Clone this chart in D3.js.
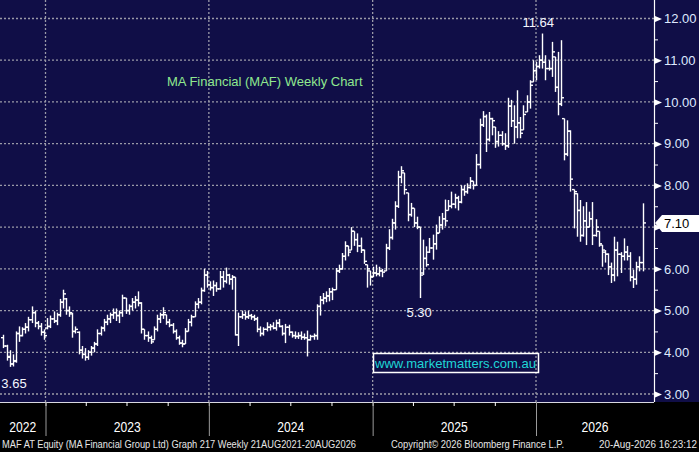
<!doctype html>
<html lang="en">
  <head>
    <meta charset="utf-8">
    <title>MA Financial (MAF) Weekly Chart</title>
    <script src="https://d3js.org/d3.v7.min.js"></script>
    <style>
      body { margin: 0; background: #000; }
      svg { display: block; }
      text { font-family: "Liberation Sans", Arial, sans-serif; }
    </style>
  </head>

  <body>
    <svg width="699" height="452"></svg>

    <script>
      // weekly bars, first week ending 29 Sep 2022
      var firstWeek = new Date(Date.UTC(2022, 8, 29));

      var opens = [4.35,4.15,3.90,3.72,3.80,4.45,4.40,4.55,4.60,4.78,4.95,4.70,4.62,4.48,4.58,4.62,4.80,4.75,4.90,5.20,
        5.28,5.00,4.92,4.50,4.48,4.05,3.95,3.88,4.00,4.10,4.20,4.45,4.58,4.72,4.80,4.90,4.95,4.88,4.95,5.30,
        5.00,5.10,5.20,5.25,5.18,4.55,4.40,4.35,4.30,4.55,4.80,4.90,4.90,4.72,4.65,4.50,4.35,4.22,4.20,4.50,
        4.72,4.85,5.15,5.20,5.48,5.85,5.62,5.55,5.60,5.52,5.80,5.70,5.85,5.75,5.80,4.42,4.85,4.90,4.85,4.88,
        4.85,4.80,4.55,4.45,4.55,4.60,4.62,4.58,4.70,4.62,4.45,4.60,4.48,4.40,4.38,4.40,4.36,4.35,4.30,4.38,
        4.40,5.10,5.25,5.30,5.35,5.45,5.50,5.95,6.00,6.30,6.55,6.45,6.90,6.70,6.55,6.45,6.10,5.95,5.82,5.90,
        5.88,5.95,5.95,6.50,6.75,7.10,7.50,8.20,8.30,7.82,7.30,7.45,7.10,7.00,5.90,6.25,6.40,6.50,6.60,6.86,
        7.05,7.20,7.40,7.50,7.55,7.70,7.60,7.90,7.85,7.95,8.10,8.00,8.50,9.45,9.65,9.10,9.60,9.40,9.05,9.20,
        9.00,8.95,9.90,9.55,9.40,9.50,9.33,9.76,10.00,10.48,10.75,10.85,11.00,10.95,10.80,10.80,11.08,10.35,9.95,9.60,
        8.75,9.30,7.90,7.80,7.40,6.80,7.15,7.00,7.20,6.80,6.90,6.57,6.40,6.35,6.05,5.85,6.45,6.35,6.30,6.40,
        6.30,5.80,5.75,6.05,6.15];

      var highs = [4.42,4.18,4.05,3.95,4.50,4.62,4.60,4.70,4.85,5.10,5.00,4.75,4.70,4.55,4.82,4.88,4.98,4.95,5.28,5.50,
        5.30,5.10,4.95,4.62,4.50,4.15,4.10,4.05,4.15,4.25,4.55,4.62,4.80,4.90,4.95,5.05,5.05,5.00,5.38,5.30,
        5.15,5.30,5.35,5.46,5.20,4.55,4.50,4.40,4.62,4.90,4.95,5.08,4.90,4.80,4.70,4.55,4.40,4.30,4.58,4.80,
        4.90,5.22,5.30,5.55,6.00,5.95,5.70,5.72,5.68,5.95,5.95,6.03,5.88,5.85,5.80,4.95,5.00,4.98,5.00,4.92,
        4.90,4.85,4.62,4.60,4.72,4.68,4.72,4.78,4.80,4.65,4.68,4.66,4.50,4.50,4.48,4.50,4.45,4.52,4.42,4.45,
        5.15,5.35,5.42,5.46,5.54,5.55,6.02,6.10,6.38,6.66,6.55,7.00,6.90,6.85,6.75,6.46,6.10,5.95,6.05,6.10,
        6.05,6.00,6.60,6.95,7.20,7.62,8.35,8.46,8.30,7.82,7.58,7.45,7.25,7.00,6.70,6.54,6.74,6.82,7.06,7.26,
        7.34,7.66,7.65,7.85,7.80,7.75,8.00,8.00,8.05,8.20,8.10,8.75,9.60,9.78,9.70,9.76,9.62,9.40,9.30,9.30,
        9.25,10.10,10.05,9.92,10.28,9.64,9.92,10.16,10.52,11.00,10.96,11.12,11.64,11.12,11.00,11.44,11.08,11.20,11.48,9.60,
        9.56,9.32,7.90,7.81,7.65,7.50,7.60,7.37,7.60,7.19,6.90,6.57,6.45,6.37,6.15,6.77,6.65,6.40,6.73,6.55,
        6.40,5.98,6.17,6.30,7.57];

      var lows = [4.10,3.80,3.65,3.66,3.75,4.25,4.38,4.45,4.50,4.70,4.60,4.55,4.40,4.30,4.55,4.58,4.70,4.65,4.85,5.05,
        4.90,4.85,4.35,4.45,3.95,3.85,3.80,3.82,3.92,4.00,4.15,4.40,4.50,4.65,4.70,4.80,4.75,4.70,4.85,4.92,
        4.90,5.00,5.05,5.10,4.45,4.30,4.25,4.20,4.30,4.50,4.70,4.80,4.66,4.60,4.45,4.30,4.18,4.12,4.20,4.50,
        4.62,4.85,5.05,5.15,5.45,5.55,5.48,5.35,5.45,5.50,5.55,5.65,5.62,5.50,4.40,4.15,4.80,4.78,4.80,4.78,
        4.75,4.48,4.38,4.40,4.50,4.52,4.55,4.52,4.60,4.40,4.22,4.40,4.35,4.32,4.32,4.30,4.30,3.90,4.28,4.30,
        4.30,4.88,5.15,5.20,5.22,5.25,5.50,5.90,5.98,6.20,6.30,6.45,6.55,6.40,6.38,6.12,5.55,5.60,5.80,5.82,
        5.82,5.80,5.95,6.45,6.70,6.94,7.46,8.05,7.78,7.14,7.25,7.00,6.95,5.30,5.85,6.05,6.38,6.22,6.46,6.86,
        6.94,7.02,7.40,7.45,7.45,7.40,7.57,7.75,7.80,7.92,7.90,8.00,8.40,9.40,8.80,9.05,9.20,8.90,8.93,8.95,
        8.85,8.90,9.40,9.00,9.13,9.13,9.33,9.76,9.84,10.48,10.52,10.80,10.80,10.52,10.75,10.60,10.24,9.68,9.90,8.60,
        8.70,7.85,6.97,6.77,6.65,6.77,6.57,7.00,6.57,6.77,6.53,6.05,6.15,5.85,5.66,5.70,5.82,5.90,6.20,6.20,
        5.70,5.54,5.62,5.94,5.94];

      var closes = [4.15,3.88,3.72,3.78,4.45,4.40,4.55,4.60,4.78,4.95,4.70,4.62,4.48,4.40,4.62,4.80,4.75,4.90,5.20,5.40,
        5.00,4.95,4.50,4.55,4.05,3.95,3.88,4.00,4.10,4.20,4.45,4.58,4.72,4.80,4.90,4.95,4.88,4.95,5.30,5.00,
        5.10,5.20,5.25,5.18,4.55,4.40,4.35,4.25,4.55,4.80,4.90,4.95,4.72,4.65,4.50,4.35,4.22,4.20,4.50,4.72,
        4.85,5.15,5.20,5.48,5.85,5.62,5.55,5.60,5.52,5.80,5.70,5.85,5.75,5.80,4.42,4.85,4.90,4.85,4.88,4.85,
        4.80,4.55,4.45,4.55,4.60,4.62,4.58,4.70,4.62,4.45,4.60,4.48,4.40,4.38,4.40,4.36,4.35,4.30,4.38,4.40,
        5.10,5.25,5.30,5.35,5.45,5.50,5.95,6.00,6.30,6.55,6.40,6.90,6.70,6.55,6.45,6.18,6.00,5.80,5.90,5.88,
        5.95,5.92,6.50,6.75,7.10,7.50,8.20,8.35,7.90,7.30,7.45,7.10,7.00,5.85,6.25,6.10,6.50,6.60,6.85,7.05,
        7.20,7.15,7.50,7.55,7.70,7.60,7.90,7.85,7.95,8.10,8.00,8.50,9.45,9.65,9.10,9.60,9.55,9.05,9.20,9.00,
        8.95,9.90,9.55,9.40,9.50,9.25,9.70,10.00,10.40,10.75,10.85,11.00,10.95,10.80,10.80,11.20,10.35,9.95,10.10,8.75,
        9.30,8.15,7.85,7.40,6.80,7.15,7.00,7.20,6.80,7.00,6.60,6.45,6.35,6.05,5.85,6.45,6.35,6.30,6.40,6.30,
        5.80,5.75,6.05,6.15,7.10];

      var priceTicks = [3, 4, 5, 6, 7, 8, 9, 10, 11, 12];
      var lastPrice = 7.10;
      var title = 'MA Financial (MAF) Weekly Chart';
      var site = 'www.marketmatters.com.au';
      var footLeft = 'MAF AT Equity (MA Financial Group Ltd) Graph 217 Weekly 21AUG2021-20AUG2026';
      var footMid = 'Copyright\u00a9 2026 Bloomberg Finance L.P.';
      var footRight = '20-Aug-2026 16:23:12';

      var bars = closes.map(function(c, i){
        return { date: d3.utcDay.offset(firstWeek, 7 * i), o: opens[i], h: highs[i], l: lows[i], c: c };
      });

      var svg = d3.select('svg');
      var plotW = 654, plotH = 402;

      var x = d3.scaleUtc()
        .domain([new Date(Date.UTC(2023, 0, 1)), new Date(Date.UTC(2026, 0, 1))])
        .range([45.5, 536]);
      var y = d3.scaleLinear().domain([3, 12]).range([394, 18.5]);

      svg.append('rect').attr('width', 699).attr('height', plotH).attr('fill', '#100e47');

      // gridlines
      svg.append('g').selectAll('line').data(priceTicks).join('line')
        .attr('x1', 0).attr('x2', plotW)
        .attr('y1', function(d){ return y(d); }).attr('y2', function(d){ return y(d); })
        .attr('stroke', '#9a9aa8').attr('stroke-width', 1.3).attr('stroke-dasharray', '2,2');

      var years = d3.utcYear.range(x.invert(0), x.invert(plotW));
      svg.append('g').selectAll('line').data(years).join('line')
        .attr('x1', function(d){ return x(d); }).attr('x2', function(d){ return x(d); })
        .attr('y1', 0).attr('y2', plotH)
        .attr('stroke', '#9a9aa8').attr('stroke-width', 1.3).attr('stroke-dasharray', '2,2');

      // bars
      var g = svg.append('g').attr('stroke', '#fff').attr('stroke-width', 1.4);
      bars.forEach(function(b){
        var bx = Math.round(x(b.date)) + 0.5;
        g.append('line').attr('x1', bx).attr('x2', bx).attr('y1', y(b.h)).attr('y2', y(b.l));
        g.append('line').attr('x1', bx - 2.5).attr('x2', bx).attr('y1', y(b.o)).attr('y2', y(b.o));
        g.append('line').attr('x1', bx).attr('x2', bx + 2.5).attr('y1', y(b.c)).attr('y2', y(b.c));
      });

      // high / low labels
      var hi = d3.greatestIndex(bars, function(b){ return b.h; });
      var lo = d3.leastIndex(bars, function(b){ return b.l; });
      var lo2 = d3.leastIndex(bars.slice(120, 160), function(b){ return b.l; }) + 120;
      var lbl = svg.append('g').attr('fill', '#f4f6ff').attr('font-size', 13).attr('text-anchor', 'middle');
      lbl.append('text').attr('x', x(bars[hi].date) - 4).attr('y', y(bars[hi].h) - 7).text(d3.format('.2f')(bars[hi].h));
      lbl.append('text').attr('x', x(bars[lo2].date) - 1).attr('y', y(bars[lo2].l) + 19).text(d3.format('.2f')(bars[lo2].l));
      lbl.append('text').attr('x', Math.max(x(bars[lo].date), 14)).attr('y', y(bars[lo].l) + 21).text(d3.format('.2f')(bars[lo].l));

      // right price axis (the 7.00 label sits under the last-price flag)
      var yAxis = svg.append('g').attr('transform', 'translate(' + plotW + ',0)')
        .call(d3.axisRight(y).tickValues(priceTicks)
          .tickFormat(function(d){ return Math.abs(d - lastPrice) < 0.3 ? '' : d3.format('.2f')(d); })
          .tickSize(0).tickPadding(10));
      yAxis.select('.domain').remove();
      yAxis.selectAll('text').attr('fill', '#dfe9ff').attr('font-size', 13)
        .attr('font-family', '"Liberation Sans", Arial, sans-serif');
      yAxis.selectAll('.tick').append('path').attr('d', 'M1,-3 L8,0 L1,3 Z').attr('fill', '#fff');

      var yMinor = svg.append('g').attr('transform', 'translate(' + plotW + ',0)')
        .call(d3.axisRight(y).tickValues(d3.range(3.5, 12, 1)).tickFormat('').tickSize(4));
      yMinor.select('.domain').remove();
      yMinor.selectAll('line').attr('stroke', '#fff');

      svg.append('line').attr('x1', plotW + 0.5).attr('x2', plotW + 0.5).attr('y1', 0).attr('y2', plotH)
        .attr('stroke', '#fff').attr('stroke-width', 1.2);

      // last price flag
      var ly = y(lastPrice);
      svg.append('path')
        .attr('d', 'M' + (plotW + 1) + ',' + ly + ' L' + (plotW + 8) + ',' + (ly - 8) + ' L699,' + (ly - 8) + ' L699,' + (ly + 9) + ' L' + (plotW + 8) + ',' + (ly + 9) + ' Z')
        .attr('fill', '#fff');
      svg.append('text').attr('x', plotW + 10).attr('y', ly + 5).attr('font-size', 13).attr('fill', '#000')
        .text(d3.format('.2f')(lastPrice));

      // bottom axis area
      svg.append('rect').attr('y', plotH).attr('width', 699).attr('height', 452 - plotH).attr('fill', '#000');
      svg.append('line').attr('x1', 0).attr('x2', plotW).attr('y1', plotH + 0.5).attr('y2', plotH + 0.5)
        .attr('stroke', '#d8d8e0').attr('stroke-width', 1);

      var xAxis = svg.append('g').attr('transform', 'translate(0,' + plotH + ')')
        .call(d3.axisBottom(x).ticks(d3.utcMonth.every(3)).tickFormat('').tickSize(4));
      xAxis.select('.domain').remove();
      xAxis.selectAll('line').attr('stroke', '#fff');

      svg.append('g').selectAll('line').data(years).join('line')
        .attr('x1', function(d){ return x(d) + 0.5; }).attr('x2', function(d){ return x(d) + 0.5; })
        .attr('y1', plotH).attr('y2', 436)
        .attr('stroke', '#9a9a9a').attr('stroke-width', 1);

      var edges = [0].concat(years.map(function(d){ return x(d); })).concat([plotW]);
      var yearNames = [2022].concat(years.map(function(d){ return d.getUTCFullYear(); }));
      svg.append('g').selectAll('text').data(yearNames).join('text')
        .attr('x', function(d, i){ return (edges[i] + edges[i + 1]) / 2; })
        .attr('y', 432).attr('text-anchor', 'middle').attr('font-size', 14).attr('fill', '#fff')
        .attr('textLength', 27).attr('lengthAdjust', 'spacingAndGlyphs')
        .text(function(d){ return d; });

      // footer
      var foot = svg.append('g').attr('fill', '#e6e6e6').attr('font-size', 10);
      foot.append('text').attr('x', 2).attr('y', 448).attr('textLength', 354).attr('lengthAdjust', 'spacingAndGlyphs').text(footLeft);
      foot.append('text').attr('x', 391).attr('y', 448).attr('textLength', 173).attr('lengthAdjust', 'spacingAndGlyphs').text(footMid);
      foot.append('text').attr('x', 599).attr('y', 448).attr('textLength', 98).attr('lengthAdjust', 'spacingAndGlyphs').text(footRight);

      // title and site box
      svg.append('text').attr('x', 167).attr('y', 86).attr('font-size', 13).attr('fill', '#8fe88f').text(title);
      svg.append('rect').attr('x', 373.5).attr('y', 353.5).attr('width', 165).attr('height', 19)
        .attr('fill', 'none').attr('stroke', '#fff').attr('stroke-width', 1.5);
      svg.append('text').attr('x', 375).attr('y', 367.5).attr('font-size', 13).attr('fill', '#1fd6d6')
        .attr('textLength', 161).attr('lengthAdjust', 'spacingAndGlyphs').text(site);
    </script>
  </body>
</html>
